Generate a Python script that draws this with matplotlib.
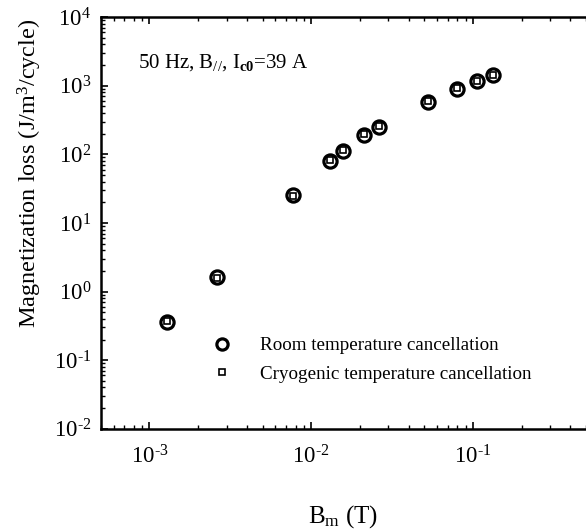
import numpy as np
import matplotlib.pyplot as plt
from matplotlib.ticker import FixedLocator, LogLocator, FuncFormatter, NullFormatter

# field amplitude (T) and loss per cycle (J/m^3)
bm_room = [1.29e-3, 2.6e-3, 7.7e-3, 1.31e-2, 1.58e-2, 2.12e-2, 2.63e-2, 5.27e-2, 7.94e-2, 0.106, 0.133]
loss_room = [0.36, 1.65, 25.5, 80, 110, 190, 250, 580, 900, 1170, 1430]

bm_cryo = [1.29e-3, 2.6e-3, 7.7e-3, 1.31e-2, 1.58e-2, 2.12e-2, 2.63e-2, 5.27e-2, 7.94e-2, 0.106, 0.133]
loss_cryo = [0.37, 1.6, 25.0, 82, 115, 195, 255, 590, 910, 1180, 1450]

x_major = [1e-3, 1e-2, 1e-1]

plt.rcParams['font.family'] = ['Liberation Serif']
plt.rcParams['mathtext.fontset'] = 'custom'
plt.rcParams['mathtext.rm'] = 'Liberation Serif'
plt.rcParams['mathtext.it'] = 'Liberation Serif:italic'
plt.rcParams['mathtext.bf'] = 'Liberation Serif:bold'


def pow10(v, pos):
    # short hyphen in the exponent instead of a full minus sign
    e = int(round(np.log10(v)))
    s = str(e).replace('-', r'\text{-}')
    return r'$10^{' + s + '}$'


fig = plt.figure(figsize=(5.86, 5.32), dpi=100)
# right end of the axes runs past the figure edge
ax = fig.add_axes([0.172, 0.194, 0.911, 0.774])

ax.plot(bm_room, loss_room, 'o', ms=9.5, mfc='none', mec='black', mew=2.3,
        label='Room temperature cancellation')
ax.plot(bm_cryo, loss_cryo, 's', ms=4.8, mfc='none', mec='black', mew=1.2,
        label='Cryogenic temperature cancellation')

ax.set_xscale('log')
ax.set_yscale('log')
ax.set_xlim(5e-4, 1)
ax.set_ylim(1e-2, 1e4)

ax.xaxis.set_major_locator(FixedLocator(x_major))
ax.yaxis.set_major_locator(LogLocator(base=10, numticks=10))
ax.xaxis.set_minor_locator(LogLocator(base=10, subs=range(2, 10), numticks=20))
ax.yaxis.set_minor_locator(LogLocator(base=10, subs=range(2, 10), numticks=20))
ax.xaxis.set_major_formatter(FuncFormatter(pow10))
ax.yaxis.set_major_formatter(FuncFormatter(pow10))
ax.xaxis.set_minor_formatter(NullFormatter())
ax.yaxis.set_minor_formatter(NullFormatter())

ax.tick_params(which='both', direction='in', top=True, right=True, labelsize=16.5)
ax.tick_params(axis='x', pad=12)
ax.tick_params(axis='y', pad=7)
ax.tick_params(which='major', length=5, width=1.2)
ax.tick_params(which='minor', length=3, width=1)
for s in ax.spines.values():
    s.set_linewidth(1.8)

ax.set_xlabel(r'B$_\mathrm{m}$ (T)', fontsize=18)
ax.xaxis.set_label_coords(0.453, -0.214)
ax.xaxis.label.set_va('center')
ax.set_ylabel(r'Magnetization loss (J/m$^3$/cycle)', fontsize=17.5)
ax.yaxis.set_label_coords(-0.133, 0.62)
ax.yaxis.label.set_va('center')

ax.text(0.07, 0.89, r'50 Hz, B$_{//}$, I$_{\mathbf{c0}}$=39 A', transform=ax.transAxes,
        fontsize=15, va='center')

ax.legend(loc='lower left', bbox_to_anchor=(0.16, 0.07), frameon=False, fontsize=13.7,
          handletextpad=1.0, labelspacing=0.58, markerscale=0.85)

fig.savefig('out.png', dpi=100)
